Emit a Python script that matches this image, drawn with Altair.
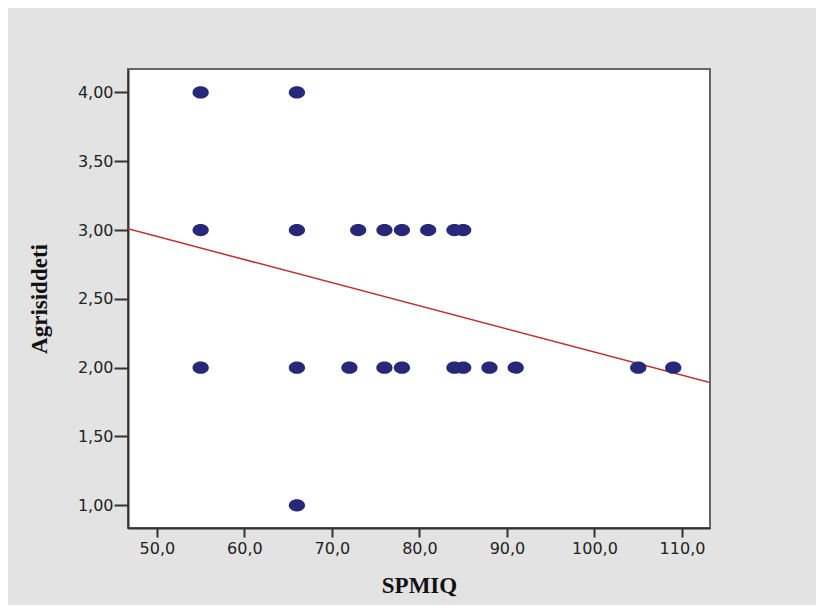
import altair as alt
import pandas as pd

# Data (SPMIQ vs Agrisiddeti)
spmiq = [55, 66,
         55, 66, 73, 76, 78, 81, 84, 85,
         55, 66, 72, 76, 78, 84, 85, 88, 91, 105, 109,
         66]
agri = [4, 4,
        3, 3, 3, 3, 3, 3, 3, 3,
        2, 2, 2, 2, 2, 2, 2, 2, 2, 2, 2,
        1]

x_ticks = [50, 60, 70, 80, 90, 100, 110]
y_ticks = [1.0, 1.5, 2.0, 2.5, 3.0, 3.5, 4.0]
X_DOMAIN = [46.7, 113.2]
Y_DOMAIN = [0.835, 4.17]

df = pd.DataFrame({"SPMIQ": spmiq, "Agrisiddeti": agri})

ellipse = "M-1,0 A1,0.75 0 1,0 1,0 A1,0.75 0 1,0 -1,0 Z"

xs = alt.Scale(domain=X_DOMAIN, nice=False, zero=False)
ys = alt.Scale(domain=Y_DOMAIN, nice=False, zero=False)

xaxis = alt.Axis(
    values=x_ticks,
    labelExpr="replace(format(datum.value, '.1f'), '.', ',')",
    title="SPMIQ",
    titleFont="Liberation Serif", titleFontWeight="bold", titleFontSize=23,
    titleColor="#111", titleX=291, titleY=57, titleBaseline="middle",
    labelFont="DejaVu Sans", labelFontSize=16, labelColor="#222",
    labelPadding=3, tickSize=9, tickColor="#333", tickWidth=2,
    domainColor="#333", domainWidth=2, grid=False,
)
yaxis = alt.Axis(
    values=y_ticks,
    labelExpr="replace(format(datum.value, '.2f'), '.', ',')",
    title="Agrisiddeti",
    titleFont="Liberation Serif", titleFontWeight="bold", titleFontSize=23,
    titleColor="#111", titleX=-89, titleY=229.5, titleAngle=-90,
    titleBaseline="middle", titleAlign="center",
    labelFont="DejaVu Sans", labelFontSize=16, labelColor="#222",
    labelPadding=1, tickSize=14, tickColor="#333", tickWidth=2,
    domainColor="#333", domainWidth=2, grid=False,
)

base = alt.Chart(df)

points = base.mark_point(
    shape=ellipse, filled=True, size=265, color="#28287a", opacity=1
).encode(
    x=alt.X("SPMIQ:Q", scale=xs, axis=xaxis),
    y=alt.Y("Agrisiddeti:Q", scale=ys, axis=yaxis),
)

fit = base.transform_regression(
    "SPMIQ", "Agrisiddeti", extent=X_DOMAIN
).mark_line(color="#c03030", strokeWidth=1.5, clip=True).encode(
    x=alt.X("SPMIQ:Q", scale=xs),
    y=alt.Y("Agrisiddeti:Q", scale=ys),
)

chart = alt.layer(fit, points).properties(
    width=582, height=459,
    padding={"left": 120, "top": 61, "right": 106, "bottom": 77},
    autosize=alt.AutoSizeParams(type="none"),
    background="#e3e3e3",
).configure_view(
    fill="white", stroke="#666", strokeWidth=2
)

chart.save("out.html", embed_options={"renderer": "svg", "actions": False})
